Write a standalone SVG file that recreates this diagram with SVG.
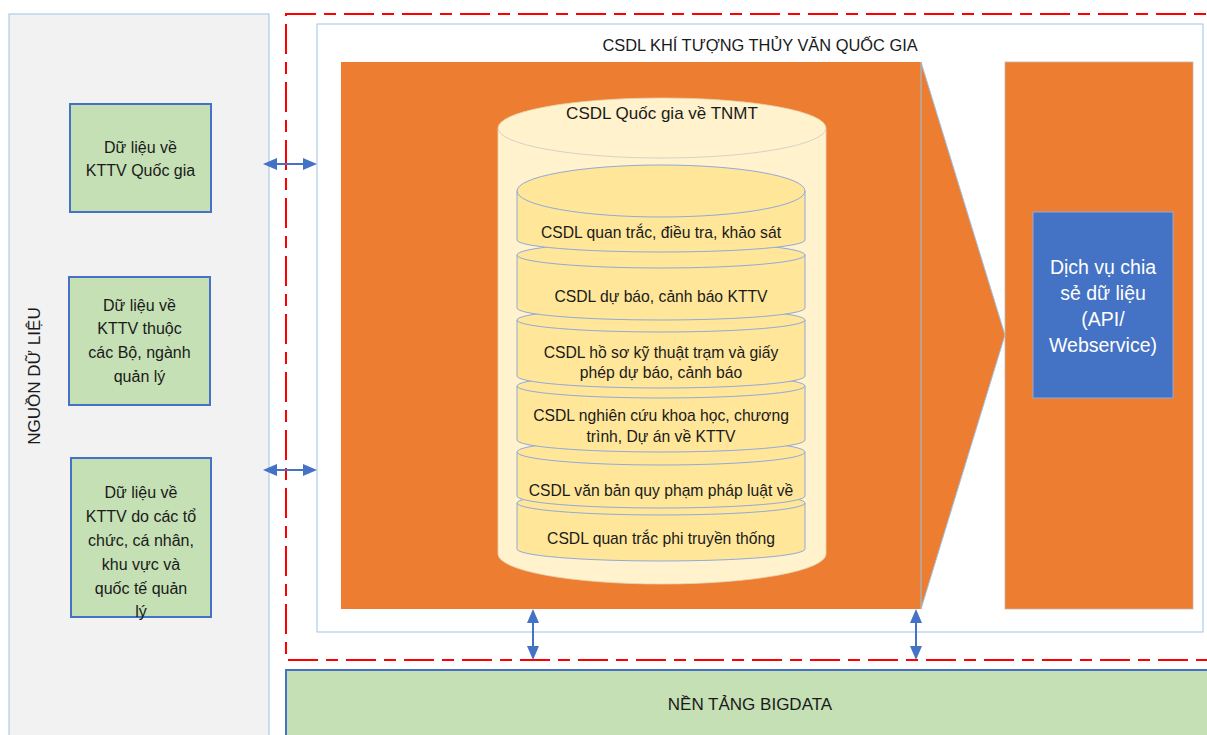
<svg xmlns="http://www.w3.org/2000/svg" width="1207" height="735" viewBox="0 0 1207 735">
  <defs>
    <style>
      text { font-family: "Liberation Sans", Arial, sans-serif; fill: #1a1a1a; text-anchor: middle; dominant-baseline: central; }
      .src { fill: #c5e0b4; stroke: #4472c4; stroke-width: 2; }
      .src-text { font-size: 16px; }
      .disk { fill: #ffe699; stroke: #8faadc; stroke-width: 1; }
      .disk-rim { fill: none; stroke: #8faadc; stroke-width: 1; }
      .disk-text { font-size: 15.7px; }
      .svc-text { font-size: 19.5px; fill: #ffffff; }
      .link { fill: none; stroke: #4472c4; stroke-width: 2; marker-start: url(#head); marker-end: url(#head); }
    </style>
    <marker id="head" markerUnits="userSpaceOnUse" markerWidth="14" markerHeight="12" refX="10" refY="6" orient="auto-start-reverse" viewBox="0 0 14 12">
      <path d="M0,0 L14,6 L0,12 Z" fill="#4472c4"/>
    </marker>
  </defs>

  <rect width="1207" height="735" fill="#ffffff"/>

  <!-- data sources panel -->
  <g id="sources-panel">
    <rect x="9" y="14" width="260" height="730" fill="#f2f2f2" stroke="#9dc3e6" stroke-width="1"/>
    <text x="34" y="376" font-size="17" transform="rotate(-90 34 376)">NGUỒN DỮ LIỆU</text>
  </g>

  <g id="src-national">
    <rect class="src" x="70" y="104" width="141" height="108"/>
    <text class="src-text" x="140.5" y="147">Dữ liệu về</text>
    <text class="src-text" x="140.5" y="170">KTTV Quốc gia</text>
  </g>

  <g id="src-ministries">
    <rect class="src" x="69" y="277" width="141" height="128"/>
    <text class="src-text" x="139.5" y="305">Dữ liệu về</text>
    <text class="src-text" x="139.5" y="328">KTTV thuộc</text>
    <text class="src-text" x="139.5" y="352">các Bộ, ngành</text>
    <text class="src-text" x="139.5" y="376">quản lý</text>
  </g>

  <g id="src-organizations">
    <rect class="src" x="71" y="458" width="140" height="159"/>
    <text class="src-text" x="141" y="492">Dữ liệu về</text>
    <text class="src-text" x="141" y="516">KTTV do các tổ</text>
    <text class="src-text" x="141" y="540">chức, cá nhân,</text>
    <text class="src-text" x="141" y="564">khu vực và</text>
    <text class="src-text" x="141" y="588">quốc tế quản</text>
    <text class="src-text" x="141" y="611">lý</text>
  </g>

  <!-- system boundary -->
  <g id="boundary">
    <rect x="286" y="14" width="940" height="646" fill="none" stroke="#ff0000" stroke-width="2" stroke-dasharray="30 8 12 8"/>
  </g>

  <g id="national-db">
    <rect x="317" y="24" width="886" height="608" fill="#ffffff" stroke="#9dc3e6" stroke-width="1"/>
    <text x="760" y="45" font-size="16.4">CSDL KHÍ TƯỢNG THỦY VĂN QUỐC GIA</text>
  </g>

  <!-- storage block with chevron -->
  <g id="storage">
    <rect x="341" y="62" width="580" height="547" fill="#ed7d31"/>
    <path d="M921,62 L1005,335 L921,609 Z" fill="#ed7d31" stroke="#9dc3e6" stroke-width="1"/>
    <line x1="921" y1="62" x2="921" y2="609" stroke="#b9a38f" stroke-width="1"/>
  </g>

  <g id="service-panel">
    <rect x="1005" y="62" width="188" height="547" fill="#ed7d31" stroke="#c9b7a8" stroke-width="0.8"/>
  </g>

  <g id="data-service">
    <rect x="1033" y="212" width="140" height="186" fill="#4472c4" stroke="#8faadc" stroke-width="1"/>
    <text class="svc-text" x="1103" y="267">Dịch vụ chia</text>
    <text class="svc-text" x="1103" y="293">sẻ dữ liệu</text>
    <text class="svc-text" x="1103" y="319">(API/</text>
    <text class="svc-text" x="1103" y="345">Webservice)</text>
  </g>

  <!-- national resource database cylinder -->
  <g id="tnmt-cylinder">
    <path d="M498,128 A164,30 0 0 1 826,128 L826,554 A164,30 0 0 1 498,554 Z" fill="#fff2cc" stroke="#e3d6b0" stroke-width="0.8"/>
    <path d="M498,128 A164,30 0 0 0 826,128" fill="none" stroke="#c9c9c9" stroke-width="0.8"/>
    <text x="662" y="113" font-size="17">CSDL Quốc gia về TNMT</text>
  </g>

  <!-- stacked databases, lowest first so each upper disk overlaps the one below -->
  <g id="db-nontraditional">
    <path class="disk" d="M517,503 A144,12 0 0 1 805,503 L805,549 A144,12 0 0 1 517,549 Z"/>
    <path class="disk-rim" d="M517,503 A144,12 0 0 0 805,503"/>
    <text class="disk-text" x="661" y="538">CSDL quan trắc phi truyền thống</text>
  </g>

  <g id="db-legal">
    <path class="disk" d="M517,452 A144,13 0 0 1 805,452 L805,496 A144,12 0 0 1 517,496 Z"/>
    <path class="disk-rim" d="M517,452 A144,13 0 0 0 805,452"/>
    <text class="disk-text" x="661" y="490">CSDL văn bản quy phạm pháp luật về</text>
  </g>

  <g id="db-research">
    <path class="disk" d="M517,386 A144,12 0 0 1 805,386 L805,440 A144,12 0 0 1 517,440 Z"/>
    <path class="disk-rim" d="M517,386 A144,12 0 0 0 805,386"/>
    <text class="disk-text" x="661" y="415">CSDL nghiên cứu khoa học, chương</text>
    <text class="disk-text" x="661" y="436">trình, Dự án về KTTV</text>
  </g>

  <g id="db-station-records">
    <path class="disk" d="M517,320 A144,12 0 0 1 805,320 L805,376 A144,12 0 0 1 517,376 Z"/>
    <path class="disk-rim" d="M517,320 A144,12 0 0 0 805,320"/>
    <text class="disk-text" x="661" y="352">CSDL hồ sơ kỹ thuật trạm và giấy</text>
    <text class="disk-text" x="661" y="372">phép dự báo, cảnh báo</text>
  </g>

  <g id="db-forecast">
    <path class="disk" d="M517,255 A144,13 0 0 1 805,255 L805,308 A144,12 0 0 1 517,308 Z"/>
    <path class="disk-rim" d="M517,255 A144,13 0 0 0 805,255"/>
    <text class="disk-text" x="661" y="296">CSDL dự báo, cảnh báo KTTV</text>
  </g>

  <g id="db-observation">
    <path class="disk" d="M517,191 A144,26 0 0 1 805,191 L805,240 A144,12 0 0 1 517,240 Z"/>
    <path class="disk-rim" d="M517,191 A144,26 0 0 0 805,191"/>
    <text class="disk-text" x="661" y="232">CSDL quan trắc, điều tra, khảo sát</text>
  </g>

  <!-- big data platform -->
  <g id="bigdata">
    <rect x="286" y="670" width="940" height="80" fill="#c5e0b4" stroke="#4472c4" stroke-width="2"/>
    <text x="750" y="704" font-size="17">NỀN TẢNG BIGDATA</text>
  </g>

  <!-- two-way exchanges -->
  <g id="connectors">
    <path class="link" d="M267,164 L313,164"/>
    <path class="link" d="M267,470 L313,470"/>
    <path class="link" d="M533,613 L533,656"/>
    <path class="link" d="M916,613 L916,656"/>
  </g>
</svg>
